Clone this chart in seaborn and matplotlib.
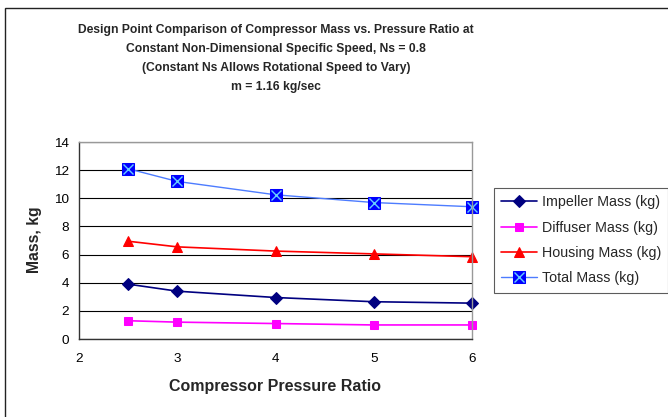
import numpy as np
import matplotlib
matplotlib.use("Agg")
import matplotlib.pyplot as plt
import seaborn as sns
from matplotlib.patches import Rectangle
from matplotlib.legend_handler import HandlerTuple

pressure_ratio = [2.5, 3, 4, 5, 6]
impeller = [3.9, 3.4, 2.95, 2.65, 2.55]
diffuser = [1.3, 1.2, 1.1, 1.0, 1.0]
housing = [6.95, 6.55, 6.25, 6.05, 5.85]
total = [12.1, 11.2, 10.25, 9.7, 9.4]

title_lines = [
    "Design Point Comparison of Compressor Mass vs. Pressure Ratio at",
    "Constant Non-Dimensional Specific Speed, Ns = 0.8",
    "(Constant Ns Allows Rotational Speed to Vary)",
    "m = 1.16 kg/sec",
]

sns.set_style("white")
plt.rcParams["font.family"] = ["Liberation Sans", "DejaVu Sans"]

fig = plt.figure(figsize=(6.68, 4.17), dpi=100)
ax = fig.add_axes([0.1183, 0.187, 0.5883, 0.4724])

sns.lineplot(x=pressure_ratio, y=impeller, ax=ax, color="#000080", marker="D",
             markersize=5.8, markeredgecolor="#000080", linewidth=1.2,
             label="Impeller Mass (kg)")
sns.lineplot(x=pressure_ratio, y=diffuser, ax=ax, color="#FF00FF", marker="s",
             markersize=6, markeredgecolor="#FF00FF", linewidth=1.2,
             label="Diffuser Mass (kg)")
sns.lineplot(x=pressure_ratio, y=housing, ax=ax, color="#FF0000", marker="^",
             markersize=7, markeredgecolor="#FF0000", linewidth=1.2,
             label="Housing Mass (kg)")
sns.lineplot(x=pressure_ratio, y=total, ax=ax, color="#4D7CFF", marker="s",
             markersize=9.3, markerfacecolor="#0000FF", markeredgecolor="#0000FF",
             linewidth=1.0, label="Total Mass (kg)")
ax.plot(pressure_ratio, total, linestyle="none", marker="x", markersize=7.5,
        markeredgecolor="#66CCFF", markeredgewidth=1.0, clip_on=False)
for ln in ax.lines:
    ln.set_clip_on(False)

ax.set_xlim(2, 6)
ax.set_ylim(0, 14)
ax.set_xticks([2, 3, 4, 5, 6])
ax.set_yticks(np.arange(0, 15, 2))
ax.yaxis.grid(True, color="black", linewidth=0.8)
ax.set_axisbelow(True)
for side in ["top", "right"]:
    ax.spines[side].set_color("#999999")
for side in ["left", "bottom"]:
    ax.spines[side].set_color("#333333")
for sp in ax.spines.values():
    sp.set_linewidth(1.0)
ax.tick_params(axis="both", direction="out", length=4, width=0.8,
               labelsize=9.7, colors="black", pad=3)
ax.tick_params(axis="x", pad=6)
ax.set_xlabel("")
ax.set_ylabel("")

handles, labels = ax.get_legend_handles_labels()
handles[3] = (handles[3], ax.lines[-1])
ax.legend(handles, labels, loc="upper left", bbox_to_anchor=(494 / 668, 1 - 188 / 417),
          bbox_transform=fig.transFigure, frameon=True, fancybox=False,
          edgecolor="#333333", fontsize=10.3, handlelength=2.5, borderpad=0.5,
          labelspacing=0.8, handletextpad=0.35, borderaxespad=0,
          handler_map={tuple: HandlerTuple(ndivide=1)})
ax.get_legend().get_frame().set_linewidth(0.8)

for i, line in enumerate(title_lines):
    fig.text(276 / 668, 1 - (30 + 19 * i) / 417, line, ha="center", va="center",
             fontsize=8.7, fontweight="bold")

fig.text(35 / 668, 1 - 240 / 417, "Mass, kg", rotation=90, ha="center",
         va="center", fontsize=11.3, fontweight="bold")
fig.text(275 / 668, 1 - 386 / 417, "Compressor Pressure Ratio", ha="center",
         va="center", fontsize=11.5, fontweight="bold")

fig.patches.append(Rectangle((5 / 668, -0.1), 1.2, 1 - 8 / 417 + 0.1,
                             transform=fig.transFigure, fill=False,
                             edgecolor="#222222", linewidth=1.0))

fig.savefig("out.png", dpi=100)
